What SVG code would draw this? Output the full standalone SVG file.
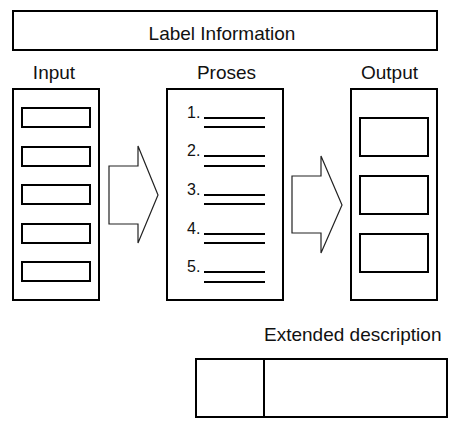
<svg xmlns="http://www.w3.org/2000/svg" width="463" height="434" viewBox="0 0 463 434">
<style>
.box{fill:#fff;stroke:#000;stroke-width:2}
.item{fill:none;stroke:#000;stroke-width:2}
.ln{stroke:#000;stroke-width:2}
.arrow{fill:#fff;stroke:#222;stroke-width:1.2;stroke-linejoin:miter}
.t{font-family:"Liberation Sans",Arial,sans-serif;font-size:19px;fill:#111}
.n{font-family:"Liberation Sans",Arial,sans-serif;font-size:16px;fill:#111}
</style>
<rect width="463" height="434" fill="#fff"/>
<g id="label-information">
<rect class="box" x="13" y="11" width="424" height="39"/>
<text class="t" x="222" y="40" text-anchor="middle">Label Information</text>
</g>
<g id="input">
<text class="t" x="54" y="79" text-anchor="middle">Input</text>
<rect class="box" x="13" y="89" width="86" height="211"/>
<rect class="item" x="22" y="108" width="68" height="19"/>
<rect class="item" x="22" y="147" width="68" height="19"/>
<rect class="item" x="22" y="185" width="68" height="19"/>
<rect class="item" x="22" y="224" width="68" height="19"/>
<rect class="item" x="22" y="262" width="68" height="19"/>
</g>
<g id="proses">
<text class="t" x="226.5" y="79" text-anchor="middle">Proses</text>
<rect class="box" x="167" y="89" width="116" height="211"/>
<text class="n" x="187" y="118">1.</text>
<text class="n" x="187" y="156">2.</text>
<text class="n" x="187" y="195">3.</text>
<text class="n" x="187" y="234">4.</text>
<text class="n" x="187" y="272">5.</text>
<line class="ln" x1="204" y1="118" x2="265" y2="118"/>
<line class="ln" x1="204" y1="127" x2="265" y2="127"/>
<line class="ln" x1="204" y1="156" x2="265" y2="156"/>
<line class="ln" x1="204" y1="166" x2="265" y2="166"/>
<line class="ln" x1="204" y1="195" x2="265" y2="195"/>
<line class="ln" x1="204" y1="204" x2="265" y2="204"/>
<line class="ln" x1="204" y1="234" x2="265" y2="234"/>
<line class="ln" x1="204" y1="243" x2="265" y2="243"/>
<line class="ln" x1="204" y1="272" x2="265" y2="272"/>
<line class="ln" x1="204" y1="282" x2="265" y2="282"/>
</g>
<g id="output">
<text class="t" x="389.5" y="79" text-anchor="middle">Output</text>
<rect class="box" x="351" y="89" width="86" height="211"/>
<rect class="item" x="360" y="118" width="68" height="38"/>
<rect class="item" x="360" y="176" width="68" height="38"/>
<rect class="item" x="360" y="234" width="68" height="38"/>
</g>
<g id="extended-description">
<text class="t" x="264" y="341">Extended description</text>
<rect class="box" x="196" y="359" width="251" height="58"/>
<line class="ln" x1="264" y1="359" x2="264" y2="417"/>
</g>
<g id="connectors">
<path class="arrow" d="M109,166 H138 V146 L158,195 L138,243 V224 H109 Z"/>
<path class="arrow" d="M292,176 H321 V156 L342,205 L321,253 V233 H292 Z"/>
</g>
</svg>
